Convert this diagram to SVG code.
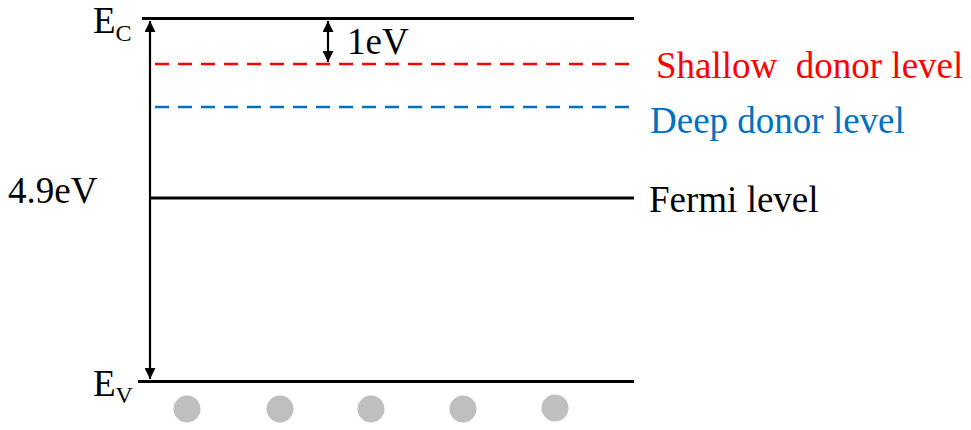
<svg xmlns="http://www.w3.org/2000/svg" width="971" height="430" viewBox="0 0 971 430">
<style>
text{font-family:"Liberation Serif","Times New Roman",serif;font-size:37px;fill:#000}
.lvl{stroke:#000;stroke-width:3;fill:none}
.dash{stroke-width:2.5;stroke-dasharray:14 9;fill:none}
.arr{stroke:#000;stroke-width:2.2;fill:none}
.dot{fill:#bfbfbf}
</style>
<defs>
<marker id="ah" viewBox="0 0 10 10" refX="10" refY="5" markerWidth="5" markerHeight="5" orient="auto-start-reverse" markerUnits="strokeWidth">
<path d="M0,0 L10,5 L0,10 z" fill="#000"/>
</marker>
</defs>
<rect width="971" height="430" fill="#fff"/>
<g id="ec">
<line class="lvl" x1="142" y1="18.5" x2="634" y2="18.5"/>
<text x="93" y="33">E<tspan font-size="24" dy="8">C</tspan></text>
</g>
<g id="ev">
<line class="lvl" x1="138" y1="381.5" x2="634" y2="381.5"/>
<text x="93" y="396">E<tspan font-size="24" dy="7">V</tspan></text>
</g>
<g id="shallow">
<line class="dash" stroke="#ff0000" x1="155" y1="64" x2="634" y2="64"/>
<text x="656" y="78" style="fill:#ff0000;white-space:pre">Shallow  donor level</text>
</g>
<g id="deep">
<line class="dash" stroke="#0070c0" x1="155" y1="107" x2="634" y2="107"/>
<text x="650" y="133" style="fill:#0070c0">Deep donor level</text>
</g>
<g id="fermi">
<line class="lvl" x1="150" y1="198" x2="634" y2="198"/>
<text x="649" y="212">Fermi level</text>
</g>
<g id="gap-label">
<text x="8" y="203" font-size="38">4.9eV</text>
</g>
<g id="holes">
<circle class="dot" cx="187" cy="409" r="13.5"/>
<circle class="dot" cx="280" cy="409" r="13.5"/>
<circle class="dot" cx="371" cy="409" r="13.5"/>
<circle class="dot" cx="463" cy="409" r="13.5"/>
<circle class="dot" cx="555" cy="408" r="13.5"/>
</g>
<g id="connectors">
<line class="arr" x1="150" y1="21" x2="150" y2="379" marker-start="url(#ah)" marker-end="url(#ah)"/>
<line class="arr" x1="328" y1="21" x2="328" y2="62" marker-start="url(#ah)" marker-end="url(#ah)"/>
<text x="347" y="54" font-size="30">1eV</text>
</g>
</svg>
